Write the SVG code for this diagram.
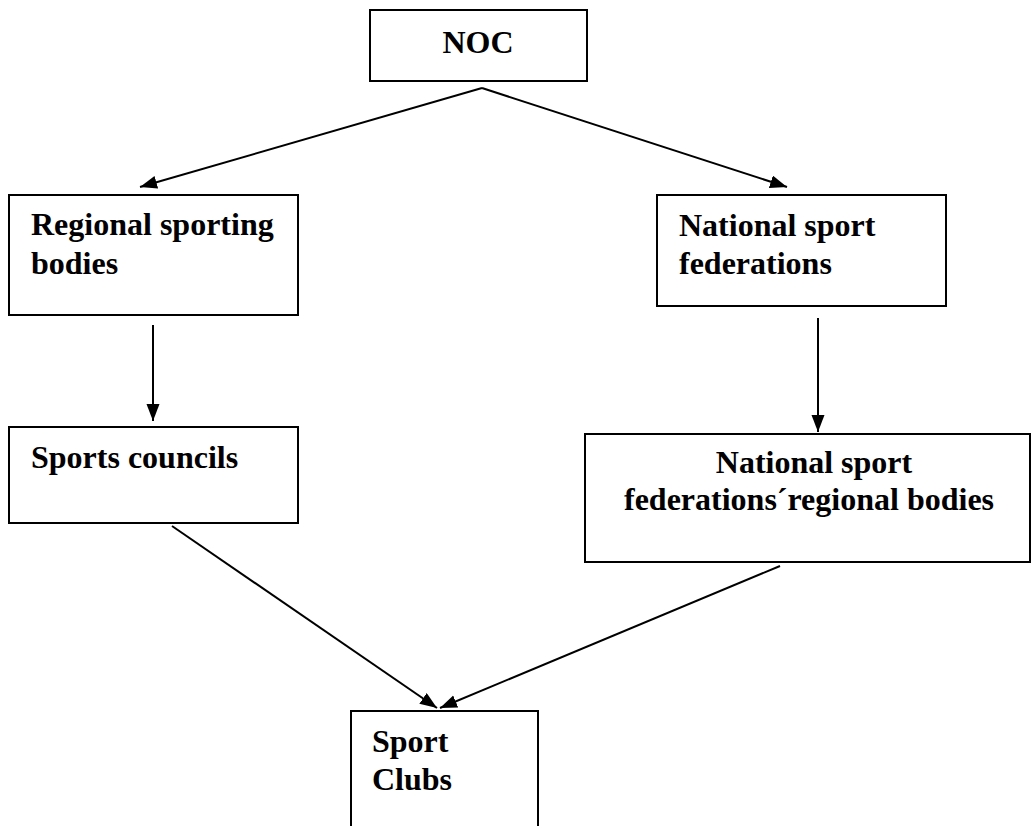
<svg xmlns="http://www.w3.org/2000/svg" width="1033" height="826" viewBox="0 0 1033 826">
<style>
.box{fill:#fff;stroke:#000;stroke-width:2}
.t{font-family:'Liberation Serif','Times New Roman',serif;font-weight:700;font-size:32px;fill:#000}
.c{stroke:#000;stroke-width:2;fill:none}
</style>
<defs>
<marker id="ah" markerUnits="userSpaceOnUse" markerWidth="18" markerHeight="14" refX="17" refY="6.5" orient="auto">
<path d="M0,0 L17,6.5 L0,13 z" fill="#000"/>
</marker>
</defs>
<rect width="1033" height="826" fill="#fff"/>
<g id="connectors">
<line class="c" x1="482" y1="88" x2="140" y2="187" marker-end="url(#ah)"/>
<line class="c" x1="482" y1="88" x2="787" y2="187" marker-end="url(#ah)"/>
<line class="c" x1="153" y1="325" x2="153" y2="421" marker-end="url(#ah)"/>
<line class="c" x1="818" y1="318" x2="818" y2="432" marker-end="url(#ah)"/>
<line class="c" x1="172" y1="526" x2="437" y2="708" marker-end="url(#ah)"/>
<line class="c" x1="780" y1="566" x2="440" y2="708" marker-end="url(#ah)"/>
</g>
<g id="noc">
<rect class="box" x="370" y="10" width="217" height="71"/>
<text class="t" x="478" y="53" text-anchor="middle">NOC</text>
</g>
<g id="regional">
<rect class="box" x="9" y="195" width="289" height="120"/>
<text class="t" x="31" y="235">Regional sporting</text>
<text class="t" x="31" y="274">bodies</text>
</g>
<g id="national">
<rect class="box" x="657" y="195" width="289" height="111"/>
<text class="t" x="679" y="236">National sport</text>
<text class="t" x="679" y="274">federations</text>
</g>
<g id="councils">
<rect class="box" x="9" y="427" width="289" height="96"/>
<text class="t" x="31" y="468">Sports councils</text>
</g>
<g id="nationalregional">
<rect class="box" x="585" y="434" width="445" height="128"/>
<text class="t" x="814" y="473" text-anchor="middle">National sport</text>
<text class="t" x="809" y="510" text-anchor="middle">federations´regional bodies</text>
</g>
<g id="clubs">
<rect class="box" x="351" y="711" width="187" height="130"/>
<text class="t" x="372" y="752">Sport</text>
<text class="t" x="372" y="790">Clubs</text>
</g>
</svg>
